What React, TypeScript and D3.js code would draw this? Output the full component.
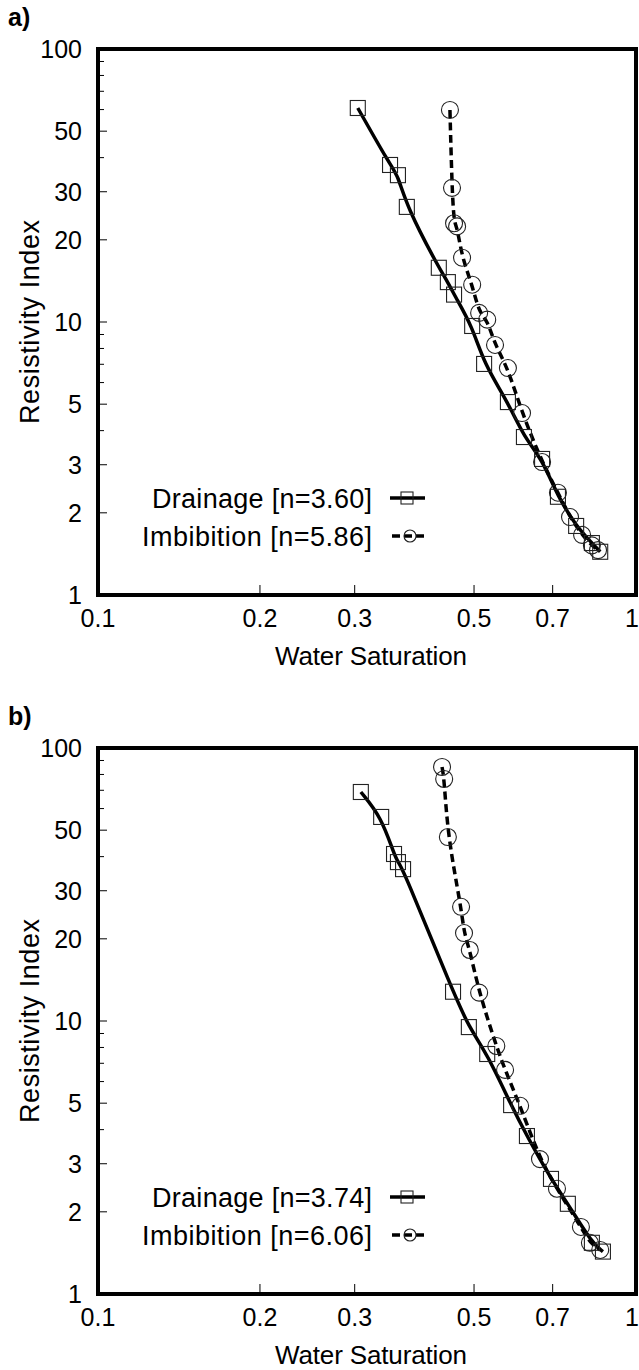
import React from 'react';
import * as d3 from 'd3';

// ---------- data ----------
const xTickValues = [0.1, 0.2, 0.3, 0.5, 0.7, 1];
const xTickLabels = ['0.1', '0.2', '0.3', '0.5', '0.7', '1'];
const yTickValues = [1, 2, 3, 5, 10, 20, 30, 50, 100];
const yTickLabels = ['1', '2', '3', '5', '10', '20', '30', '50', '100'];
const yMinorValues = [4, 6, 7, 8, 9, 40, 60, 70, 80, 90];

// Panel a
const drainageASw = [0.304, 0.349, 0.361, 0.375, 0.430, 0.447, 0.459, 0.496, 0.522, 0.578, 0.619, 0.669, 0.716, 0.774, 0.828, 0.858];
const drainageARI = [60.8, 37.6, 34.5, 26.4, 15.8, 14.0, 12.6, 9.67, 7.02, 5.09, 3.79, 3.15, 2.29, 1.79, 1.55, 1.44];
const imbibitionASw = [0.451, 0.455, 0.459, 0.465, 0.475, 0.496, 0.511, 0.529, 0.547, 0.578, 0.614, 0.669, 0.716, 0.754, 0.794, 0.828, 0.850];
const imbibitionARI = [59.8, 31.0, 23.0, 22.4, 17.2, 13.7, 10.8, 10.2, 8.24, 6.78, 4.64, 3.07, 2.37, 1.93, 1.66, 1.52, 1.46];

// Panel b
const drainageBSw = [0.308, 0.336, 0.355, 0.361, 0.369, 0.457, 0.489, 0.529, 0.586, 0.627, 0.695, 0.747, 0.828, 0.868];
const drainageBRI = [69.0, 55.9, 40.9, 38.2, 36.0, 12.8, 9.5, 7.57, 4.92, 3.79, 2.64, 2.14, 1.54, 1.43];
const imbibitionBSw = [0.436, 0.440, 0.447, 0.473, 0.479, 0.491, 0.511, 0.550, 0.571, 0.609, 0.663, 0.713, 0.790, 0.821, 0.858];
const imbibitionBRI = [85.2, 77.0, 47.2, 26.2, 21.0, 18.2, 12.7, 8.1, 6.62, 4.89, 3.12, 2.43, 1.76, 1.54, 1.45];

const panelLabels = ['a)', 'b)'];
const drainageLegend = ['Drainage [n=3.60]', 'Drainage [n=3.74]'];
const imbibitionLegend = ['Imbibition [n=5.86]', 'Imbibition [n=6.06]'];
const xTitle = 'Water Saturation';
const yTitle = 'Resistivity Index';

// ---------- layout ----------
const W = 639;
const H = 1370;
const LEFT = 98;
const RIGHT = 636;
const PH = 546;
const TOPS = [49, 748];
const FONT = "'Liberation Sans', Arial, Helvetica, sans-serif";

type Pt = [number, number];
const zip = (a: number[], b: number[]): Pt[] => a.map((v, i) => [v, b[i]]);

function Panel({ idx, drainage, imbibition }: { idx: number; drainage: Pt[]; imbibition: Pt[] }) {
  const top = TOPS[idx];
  const bottom = top + PH;
  const x = d3.scaleLog().domain([0.1, 1]).range([LEFT, RIGHT]);
  const y = d3.scaleLog().domain([1, 100]).range([bottom, top]);
  const line = d3
    .line<Pt>()
    .x((d) => x(d[0]))
    .y((d) => y(d[1]))
    .curve(d3.curveBasis);
  const legY1 = top + 449;
  const legY2 = top + 487;
  const sq = 15;
  const r = 8.5;
  return (
    <g>
      <text x={8} y={top - 23} fontFamily={FONT} fontWeight="bold" fontSize={25}>
        {panelLabels[idx]}
      </text>
      {/* minor y ticks */}
      {yMinorValues.map((v) => (
        <line key={'m' + v} x1={LEFT} x2={LEFT + 6} y1={y(v)} y2={y(v)} stroke="#000" strokeWidth={1} />
      ))}
      {yTickValues.map((v) => (
        <line key={'t' + v} x1={LEFT} x2={LEFT + 9} y1={y(v)} y2={y(v)} stroke="#000" strokeWidth={1} />
      ))}
      {xTickValues.slice(1, -1).map((v) => (
        <line key={'x' + v} x1={x(v)} x2={x(v)} y1={bottom} y2={bottom - 10} stroke="#000" strokeWidth={1} />
      ))}
      {/* tick labels */}
      {yTickValues.map((v, i) => (
        <text key={'yl' + v} x={82} y={y(v)} dy="0.36em" textAnchor="end" fontFamily={FONT} fontSize={25}>
          {yTickLabels[i]}
        </text>
      ))}
      {xTickValues.map((v, i) => (
        <text
          key={'xl' + v}
          x={i === xTickValues.length - 1 ? W : x(v)}
          y={bottom + 32}
          textAnchor={i === xTickValues.length - 1 ? 'end' : 'middle'}
          fontFamily={FONT}
          fontSize={25}
        >
          {xTickLabels[i]}
        </text>
      ))}
      {/* titles */}
      <text x={371} y={bottom + 70} textAnchor="middle" fontFamily={FONT} fontSize={26} textLength={192}>
        {xTitle}
      </text>
      <text
        transform={`translate(39, ${(top + bottom) / 2}) rotate(-90)`}
        textAnchor="middle"
        fontFamily={FONT}
        fontSize={27}
        textLength={204}
      >
        {yTitle}
      </text>
      {/* data lines */}
      <path d={line(drainage) || ''} fill="none" stroke="#000" strokeWidth={3.5} />
      <path d={line(imbibition) || ''} fill="none" stroke="#000" strokeWidth={3.5} strokeDasharray="8 4.5" />
      {/* markers */}
      {drainage.map((d, i) => (
        <rect
          key={'s' + i}
          x={x(d[0]) - sq / 2}
          y={y(d[1]) - sq / 2}
          width={sq}
          height={sq}
          fill="none"
          stroke="#222"
          strokeWidth={1.1}
        />
      ))}
      {imbibition.map((d, i) => (
        <circle key={'c' + i} cx={x(d[0])} cy={y(d[1])} r={r} fill="none" stroke="#222" strokeWidth={1.1} />
      ))}
      {/* legend */}
      <text x={372} y={legY1} dy="0.36em" textAnchor="end" fontFamily={FONT} fontSize={27} textLength={220}>
        {drainageLegend[idx]}
      </text>
      <line x1={390} x2={425} y1={legY1} y2={legY1} stroke="#000" strokeWidth={3.5} />
      <rect x={401} y={legY1 - 6} width={12} height={12} fill="none" stroke="#222" strokeWidth={1.1} />
      <text x={372} y={legY2} dy="0.36em" textAnchor="end" fontFamily={FONT} fontSize={27} textLength={230}>
        {imbibitionLegend[idx]}
      </text>
      <line x1={392} x2={428} y1={legY2} y2={legY2} stroke="#000" strokeWidth={3.5} strokeDasharray="8 4" />
      <circle cx={410} cy={legY2} r={6} fill="none" stroke="#222" strokeWidth={1.1} />
      {/* frame */}
      <rect x={LEFT} y={top} width={RIGHT - LEFT} height={PH} fill="none" stroke="#000" strokeWidth={4} />
    </g>
  );
}

export default function App() {
  return (
    <svg
      width={W}
      height={H}
      viewBox={`0 0 ${W} ${H}`}
      style={{ position: 'absolute', left: 0, top: 0, background: '#fff' }}
    >
      <rect x={0} y={0} width={W} height={H} fill="#fff" />
      <Panel idx={0} drainage={zip(drainageASw, drainageARI)} imbibition={zip(imbibitionASw, imbibitionARI)} />
      <Panel idx={1} drainage={zip(drainageBSw, drainageBRI)} imbibition={zip(imbibitionBSw, imbibitionBRI)} />
    </svg>
  );
}
